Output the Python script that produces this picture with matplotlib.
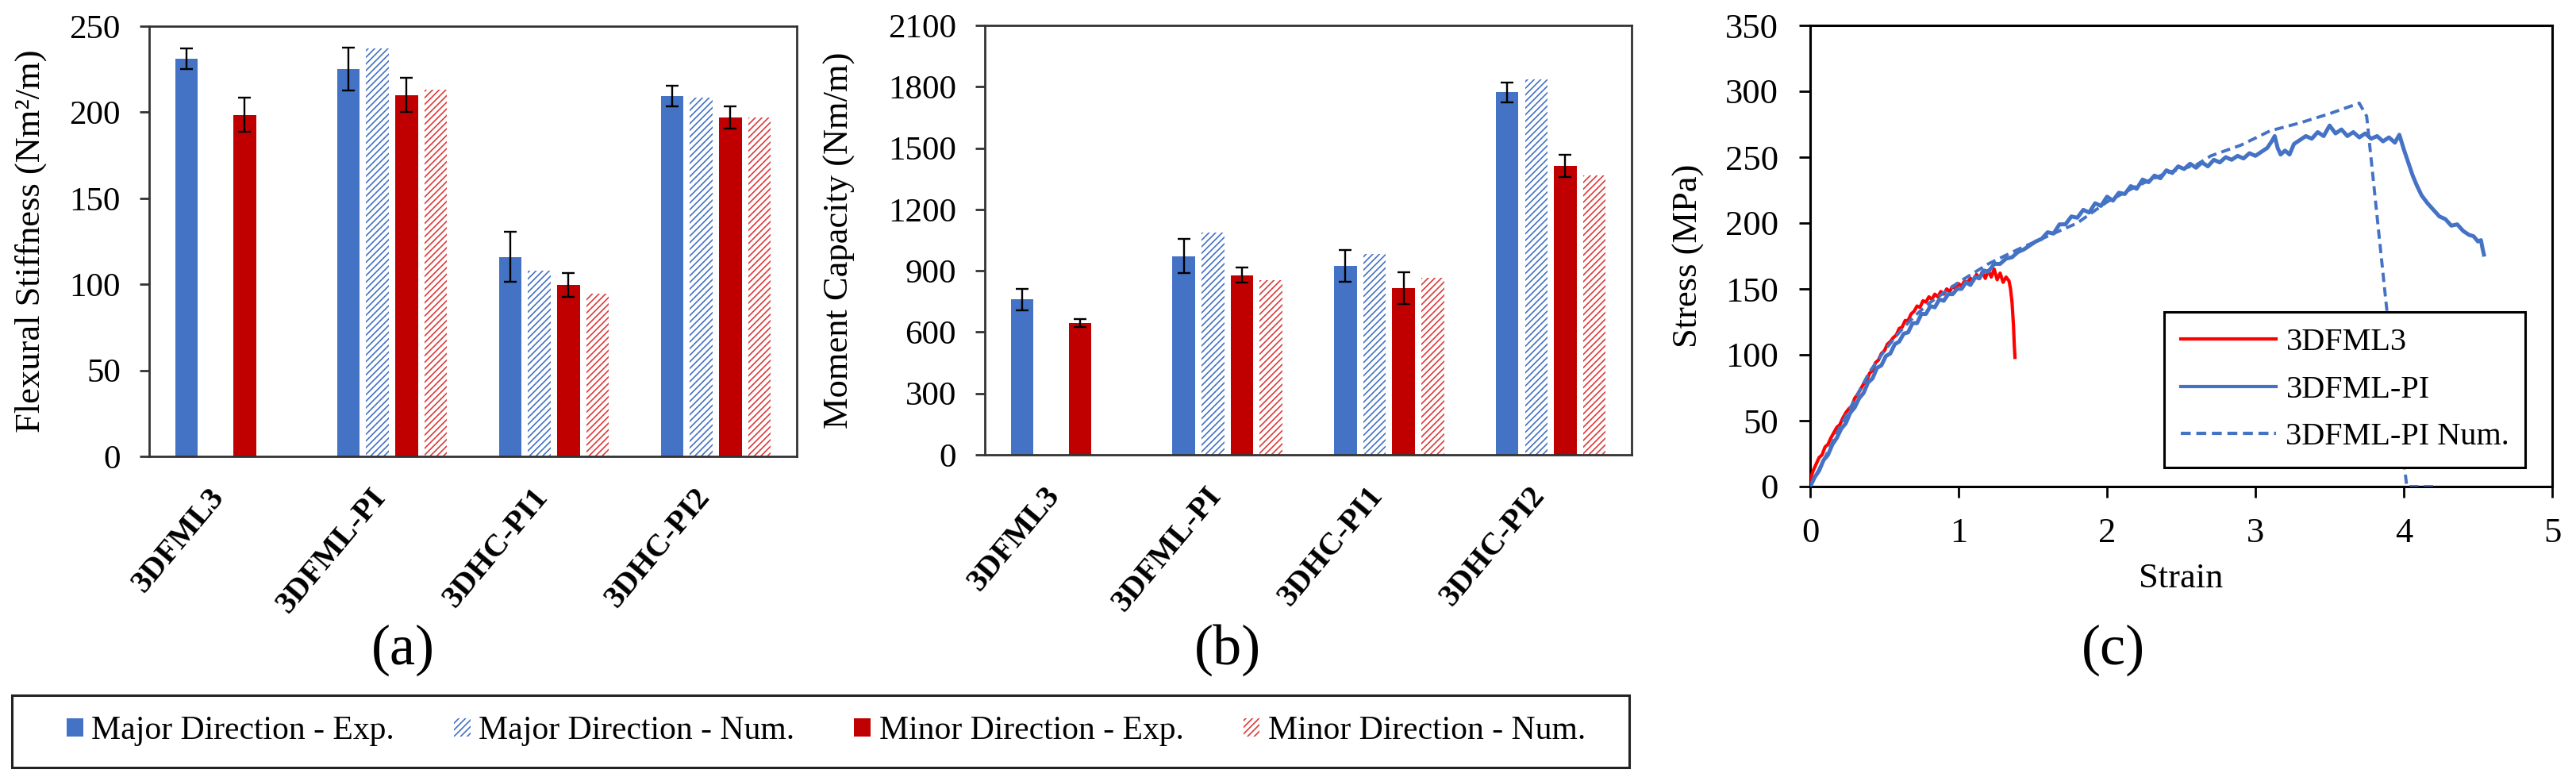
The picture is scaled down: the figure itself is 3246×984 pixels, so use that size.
import numpy as np
import matplotlib
matplotlib.use("Agg")
import matplotlib.pyplot as plt
from matplotlib.patches import Patch, Rectangle

plt.rcParams['font.family'] = ['Liberation Serif', 'DejaVu Serif']
plt.rcParams['hatch.linewidth'] = 1.2

# ---------------- data ----------------
categories = ["3DFML3", "3DFML-PI", "3DHC-PI1", "3DHC-PI2"]
series_names = ["Major Direction - Exp.", "Major Direction - Num.",
                "Minor Direction - Exp.", "Minor Direction - Num."]

stiff_major_exp = [231, 225, 116, 209.5]
stiff_major_exp_err = [6, 12.5, 14.5, 6]
stiff_major_num = [np.nan, 237, 108, 208.5]
stiff_minor_exp = [198.5, 210, 99.5, 197]
stiff_minor_exp_err = [10, 10, 7, 6.5]
stiff_minor_num = [np.nan, 213, 94.5, 197]

moment_major_exp = [760, 972, 923, 1772]
moment_major_exp_err = [52, 83, 78, 50]
moment_major_num = [np.nan, 1086, 981, 1835]
moment_minor_exp = [644, 879, 815, 1413]
moment_minor_exp_err = [20, 38, 78, 56]
moment_minor_num = [np.nan, 853, 864, 1366]

fml3_strain = [0.00, 0.02, 0.04, 0.06, 0.08, 0.10, 0.12, 0.14, 0.16, 0.18, 0.20, 0.22,
               0.24, 0.26, 0.28, 0.30, 0.32, 0.34, 0.36, 0.38, 0.40, 0.42, 0.44, 0.46,
               0.48, 0.50, 0.52, 0.54, 0.56, 0.58, 0.60, 0.62, 0.64, 0.66, 0.68, 0.70,
               0.72, 0.74, 0.76, 0.78, 0.80, 0.82, 0.84, 0.86, 0.88, 0.90, 0.92, 0.94,
               0.96, 0.98, 1.00, 1.02, 1.04, 1.06, 1.08, 1.10, 1.12, 1.14, 1.16, 1.18,
               1.20, 1.22, 1.24, 1.26, 1.28, 1.30, 1.32, 1.34, 1.35, 1.36, 1.37, 1.375,
               1.38]
fml3_stress = [5, 12, 17, 22, 24, 30, 32, 37, 41, 45, 47, 52,
               56, 59, 61, 67, 70, 74, 78, 80, 86, 88, 94, 96,
               101, 103, 108, 110, 113, 115, 120, 121, 126, 126, 131, 133,
               137, 136, 141, 140, 144, 142, 146, 144, 148, 146, 150, 148,
               152, 150, 154, 152, 156, 155, 158, 156, 161, 158, 163, 158,
               164, 159, 165, 157, 162, 155, 159, 156, 150, 140, 122, 108,
               98]

pi_strain = [0.00, 0.03, 0.06, 0.09, 0.12, 0.15, 0.18, 0.21, 0.24, 0.27, 0.30, 0.33,
             0.36, 0.39, 0.42, 0.45, 0.48, 0.51, 0.54, 0.57, 0.60, 0.63, 0.66, 0.69,
             0.72, 0.75, 0.78, 0.81, 0.84, 0.87, 0.90, 0.93, 0.96, 0.99, 1.02, 1.05,
             1.08, 1.11, 1.14, 1.17, 1.20, 1.24, 1.28, 1.32, 1.36, 1.40, 1.44, 1.48,
             1.52, 1.56, 1.60, 1.64, 1.68, 1.72, 1.76, 1.80, 1.84, 1.88, 1.92, 1.96,
             2.00, 2.04, 2.08, 2.12, 2.16, 2.20, 2.24, 2.28, 2.32, 2.36, 2.40, 2.44,
             2.48, 2.52, 2.56, 2.60, 2.64, 2.68, 2.72, 2.76, 2.80, 2.84, 2.88, 2.92,
             2.96, 3.00, 3.04, 3.08, 3.11, 3.13, 3.15, 3.17, 3.20, 3.23, 3.26, 3.30,
             3.34, 3.38, 3.42, 3.46, 3.50, 3.54, 3.58, 3.62, 3.66, 3.70, 3.74, 3.78,
             3.82, 3.86, 3.90, 3.94, 3.97, 4.00, 4.03, 4.06, 4.09, 4.12, 4.16, 4.20,
             4.24, 4.28, 4.32, 4.36, 4.40, 4.44, 4.47, 4.50, 4.52, 4.53, 4.54]
pi_stress = [0, 7, 12, 20, 24, 32, 37, 44, 48, 56, 60, 67,
             71, 79, 82, 90, 92, 99, 101, 108, 110, 116, 117, 124,
             124, 131, 131, 137, 136, 142, 141, 146, 146, 150, 150, 155,
             153, 159, 158, 164, 163, 169, 169, 173, 174, 178, 180, 183,
             186, 188, 193, 192, 199, 199, 205, 204, 210, 208, 215, 213,
             220, 217, 223, 222, 228, 226, 233, 231, 236, 234, 240, 238,
             243, 241, 245, 242, 246, 243, 248, 246, 250, 248, 251, 249,
             253, 251, 254, 257, 262, 266, 257, 252, 255, 252, 260, 263,
             266, 264, 269, 266, 274, 268, 271, 266, 269, 265, 268, 264,
             266, 262, 265, 261, 267, 256, 246, 236, 228, 221, 215, 210,
             205, 203, 198, 199, 194, 191, 190, 186, 187, 181, 176]

num_strain = [0.0, 0.1, 0.2, 0.3, 0.4, 0.5, 0.6, 0.7, 0.8, 0.9, 1.0, 1.2, 1.4, 1.6,
              1.8, 1.9, 2.0, 2.2, 2.4, 2.6, 2.7, 2.9, 3.1, 3.3, 3.5, 3.7, 3.75,
              3.88, 4.02, 4.2]
num_stress = [0, 22, 45, 66, 87, 103, 117, 129, 139, 147, 155, 169, 180, 190,
              200, 208, 216, 228, 238, 244, 251, 259, 270, 276, 283, 291, 281,
              140, 0, 0]

# ---------------- style ----------------
W, H = 3246, 984
BLUE = '#4472C4'
RED = '#C00000'
RED_H = '#DD3A3A'
AX_COL = '#333333'
TICK_FS = 31
LAB_FS = 32

fig = plt.figure(figsize=(W / 100, H / 100), dpi=100)


def fig_axes(x0, y0, x1, y1):
    return fig.add_axes([x0 / W, 1 - y1 / H, (x1 - x0) / W, (y1 - y0) / H])


ax_a = fig_axes(188, 33, 1004, 575)
ax_b = fig_axes(1241, 32, 2056, 573)
ax_c = fig_axes(2281, 32, 3216, 613)

slot = 0.18
bw = 0.14
offs = [-1.5 * slot, -0.5 * slot, 0.5 * slot, 1.5 * slot]
x = np.arange(len(categories))


def bar_panel(ax, mexp, merr, mnum, nexp, nerr, nnum, ymax, ystep, ylabel, labx):
    ax.bar(x + offs[0], mexp, bw, color=BLUE, lw=0, zorder=2)
    ax.bar(x + offs[1], mnum, bw, facecolor='white', edgecolor=BLUE, lw=0,
           hatch='////', zorder=2)
    ax.bar(x + offs[2], nexp, bw, color=RED, lw=0, zorder=2)
    ax.bar(x + offs[3], nnum, bw, facecolor='white', edgecolor=RED_H, lw=0,
           hatch='////', zorder=2)
    ax.errorbar(x + offs[0], mexp, yerr=merr, fmt='none', ecolor='black',
                elinewidth=1.7, capsize=6, capthick=1.7, zorder=3)
    ax.errorbar(x + offs[2], nexp, yerr=nerr, fmt='none', ecolor='black',
                elinewidth=1.7, capsize=6, capthick=1.7, zorder=3)
    ax.set_xlim(-0.5, 3.5)
    ax.set_ylim(0, ymax)
    ax.set_yticks(np.arange(0, ymax + 1, ystep))
    ax.set_xticks(x)
    ax.tick_params(axis='x', length=0, pad=24)
    ax.set_xticklabels(categories, fontweight='bold', fontsize=29)
    for t in ax.get_xticklabels():
        t.set_rotation(50)
        t.set_ha('right')
        t.set_va('top')
    ax.tick_params(axis='y', direction='out', length=9, width=2, color=AX_COL,
                   labelsize=TICK_FS, pad=17)
    for s in ax.spines.values():
        s.set_linewidth(2)
        s.set_color(AX_COL)
    ax.set_ylabel(ylabel, fontsize=LAB_FS)
    ax.yaxis.set_label_coords(labx, 0.5)


bar_panel(ax_a, stiff_major_exp, stiff_major_exp_err, stiff_major_num,
          stiff_minor_exp, stiff_minor_exp_err, stiff_minor_num,
          250, 50, "Flexural Stiffness (Nm\u00b2/m)", -0.158)
bar_panel(ax_b, moment_major_exp, moment_major_exp_err, moment_major_num,
          moment_minor_exp, moment_minor_exp_err, moment_minor_num,
          2100, 300, "Moment Capacity (Nm/m)", -0.2)

# ---------------- panel c ----------------
ax_c.plot(fml3_strain, fml3_stress, color='#FF0000', lw=3.0, label='3DFML3', zorder=3)
ax_c.plot(pi_strain, pi_stress, color=BLUE, lw=3.6, label='3DFML-PI', zorder=4)
ax_c.plot(num_strain, num_stress, color=BLUE, lw=2.8, ls=(0, (3, 1.7)),
          label='3DFML-PI Num.', zorder=5)
ax_c.set_xlim(0, 5)
ax_c.set_ylim(0, 350)
ax_c.set_xticks(np.arange(0, 6, 1))
ax_c.set_yticks(np.arange(0, 351, 50))
ax_c.tick_params(axis='both', direction='out', length=10, width=2, color='black',
                 labelsize=32)
ax_c.tick_params(axis='y', pad=19)
ax_c.tick_params(axis='x', pad=18)
for s in ax_c.spines.values():
    s.set_linewidth(2.2)
    s.set_color('black')
ax_c.set_xlabel("Strain", fontsize=LAB_FS)
ax_c.xaxis.set_label_coords(0.5, -0.165)
ax_c.set_ylabel("Stress (MPa)", fontsize=LAB_FS)
ax_c.yaxis.set_label_coords(-0.142, 0.5)
leg_c = ax_c.legend(loc='lower right', bbox_to_anchor=(0.964, 0.041),
                    borderaxespad=0, fontsize=29, handlelength=3.0,
                    handletextpad=0.3, labelspacing=0.55, borderpad=0.5,
                    fancybox=False, framealpha=1, edgecolor='black')
leg_c.get_frame().set_linewidth(2.2)
for ln in leg_c.get_lines():
    ln.set_linewidth(3.0)

# ---------------- panel letters ----------------
for lab, px in [("(a)", 508), ("(b)", 1547), ("(c)", 2663)]:
    fig.text(px / W, 1 - 819 / H, lab, fontsize=52, ha='center', va='center')

# ---------------- bottom legend ----------------
handles = [Patch(facecolor=BLUE, lw=0),
           Patch(facecolor='white', edgecolor=BLUE, lw=0, hatch='////'),
           Patch(facecolor=RED, lw=0),
           Patch(facecolor='white', edgecolor=RED_H, lw=0, hatch='////')]
fig.legend(handles, series_names, loc='center', bbox_to_anchor=(1041 / W, 1 - 921 / H),
           ncol=4, frameon=False, fontsize=30, handlelength=0.5, handleheight=0.5,
           handletextpad=0.25, columnspacing=1.8)
fig.add_artist(Rectangle((15 / W, 1 - 967 / H), (2053 - 15) / W, (967 - 876) / H,
                         transform=fig.transFigure, fill=False, lw=2.2,
                         edgecolor='#222222'))

fig.savefig("out.png", dpi=100)
